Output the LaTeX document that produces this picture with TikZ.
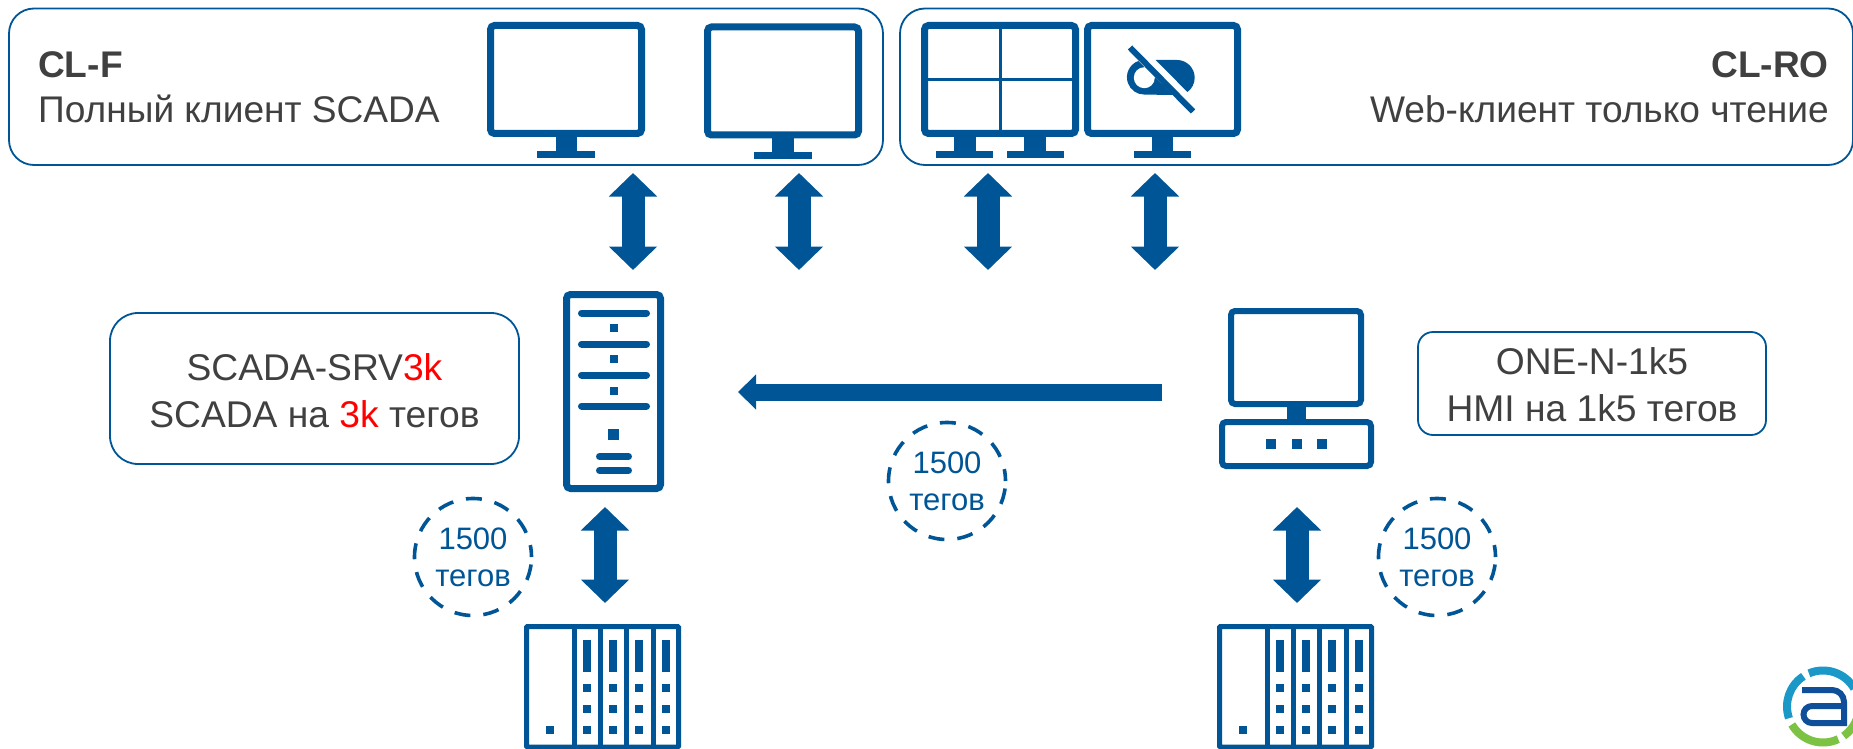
\documentclass[tikz,border=0pt]{standalone}
\usepackage{fontspec}
\setmainfont{Liberation Sans}
\usetikzlibrary{arrows.meta}
\definecolor{brand}{HTML}{005596}
\definecolor{txt}{HTML}{404040}
\definecolor{logoblue}{HTML}{1A98C8}
\definecolor{logogreen}{HTML}{7CC243}
\definecolor{logodark}{HTML}{0F4E98}
\tikzset{
  panel/.style={draw=brand,line width=1.8pt,rounded corners=25pt,fill=white,inner sep=0pt},
  paneltext/.style={inner sep=0pt,text=txt,align=center,font=\fontsize{37.2}{47}\selectfont},
  screen/.style={draw=brand,line width=7pt,rounded corners=4pt,fill=white,inner sep=0pt,outer sep=0pt},
  thinbox/.style={draw=brand,line width=5pt,fill=white,inner sep=0pt,outer sep=0pt,rounded corners=1pt},
  bigtext/.style={font=\fontsize{37.1}{45}\selectfont,text=txt,inner sep=0pt},
  tagcircle/.style={circle,draw=brand,line width=3.6pt,dash pattern=on 16pt off 13pt,dash phase=4pt,minimum size=117pt,inner sep=0pt,text=brand,align=center,font=\fontsize{31}{37}\selectfont},
  twoway/.style={draw=brand,line width=23pt,{Triangle[length=23.5pt,width=47pt,fill=brand]}-{Triangle[length=23.5pt,width=47pt,fill=brand]}},
  oneway/.style={draw=brand,line width=17pt,-{Triangle[length=18pt,width=34pt,fill=brand]}},
  round bar/.style={draw=brand,line width=7pt,line cap=round},
}
% stand of a monitor: neck from x1 to x2, base from x3 to x4, tops at y
\newcommand{\Stand}[5]{%
  \fill[brand] (#1,#5-1) rectangle (#2,#5+15);
  \fill[brand] (#3,#5+14) rectangle (#4,#5+21);
}
% PLC rack, outer left at 524
\newcommand{\PLCrack}[1]{%
  \node[thinbox,minimum width=152pt,minimum height=120.5pt] (#1) at (602.5,686.75) {};
  \foreach \dx in {574,600,626,653}{\draw[brand,line width=5pt] (\dx,626) -- (\dx,747);}
  \foreach \bx in {583,609,635,662}{%
    \fill[brand] (\bx,640) rectangle (\bx+8,672);
    \foreach \sy in {684,705,726}{\fill[brand] (\bx,\sy) rectangle (\bx+8,\sy+8);}
  }
  \fill[brand] (546,726) rectangle (554,734);
}
\begin{document}
\begin{tikzpicture}[x=1pt,y=1pt,yscale=-1]
\path[use as bounding box,clip] (0,0) rectangle (1853,749);
\fill[white] (0,0) rectangle (1853,749);

% panels
\node[panel,minimum width=874pt,minimum height=156.5pt] (clf) at (446,86.75) {};
\node[panel,minimum width=953pt,minimum height=156.5pt] (clro) at (1376.5,86.75) {};
\node[bigtext,anchor=base west] (clft) at (38,78) {\textbf{CL-F}};
\node[bigtext,anchor=base west] (clfd) at (38,123) {Полный клиент SCADA};
\node[bigtext,anchor=base east] (clrot) at (1829,78) {\textbf{CL-RO}};
\node[bigtext,anchor=base east] (clrod) at (1829,123) {Web-клиент только чтение};

% monitors in CL-F
\node[screen,minimum width=151pt,minimum height=108pt] (m1) at (566,79.5) {};
\Stand{556}{577}{537}{595}{137}
\node[screen,minimum width=151pt,minimum height=108pt] (m2) at (783,81) {};
\Stand{772}{794}{754}{812}{138.5}

% quad monitor
\node[screen,minimum width=151pt,minimum height=108pt] (m3) at (1000,79.5) {};
\draw[brand,line width=3pt] (m3.north) -- (m3.south);
\draw[brand,line width=3pt] (m3.west) -- (m3.east);
\Stand{954}{976}{936}{993}{137}
\Stand{1024}{1046}{1007}{1064}{137}

% monitor with crossed eye
\node[screen,minimum width=150pt,minimum height=108pt] (m4) at (1162.5,79.5) {};
\Stand{1152}{1173}{1134}{1191}{137}
\fill[brand] (1138.3,61) arc[start angle=250,end angle=90,radius=17.3] -- (1173.3,95) -- cycle;
\fill[white] (1144.3,77.7) circle[radius=10.5];
\fill[brand] (1177,60) arc[start angle=-90,end angle=54,radius=17.7] -- (1155.7,60) -- cycle;
\draw[brand,line width=6pt] (1130,47.5) -- (1193,111.5);

% server
\node[screen,minimum width=94pt,minimum height=194pt] (srv) at (613.5,391.5) {};
\foreach \ly in {313,344,375,406}{\draw[round bar] (581.5,\ly) -- (646.5,\ly);}
\foreach \sy in {328,359,391}{\fill[brand] (610,\sy-4) rectangle (618,\sy+4);}
\fill[brand] (608,429) rectangle (619,440);
\draw[brand,line width=7pt,line cap=round] (599.5,456.5) -- (628.5,456.5);
\draw[brand,line width=7pt,line cap=round] (599.5,470.5) -- (628.5,470.5);

% HMI
\node[screen,line width=6pt,minimum width=130pt,minimum height=93pt] (hmi) at (1296,357.5) {};
\node[screen,line width=6pt,minimum width=149pt,minimum height=44pt] (hmib) at (1296.5,444) {};
\fill[brand] (1287,404) rectangle (1306,425);
\fill[brand] (1266,439) rectangle (1276,449);
\fill[brand] (1292,439) rectangle (1302,449);
\fill[brand] (1317,439) rectangle (1327,449);

% PLC racks
\PLCrack{plca}
\begin{scope}[shift={(693,0)}]
\PLCrack{plcb}
\end{scope}

% info boxes
\node[panel,rounded corners=28pt,minimum width=409pt,minimum height=151pt] (srvbox) at (314.5,388.5) {};
\node[paneltext] (srvtext) at (314.5,391) {SCADA-SRV\textcolor{red}{3k}\\SCADA на \textcolor{red}{3k} тегов};
\node[panel,rounded corners=15pt,minimum width=348pt,minimum height=103pt] (hmibox) at (1592,383.5) {};
\node[paneltext] (hmitext) at (1592,385) {ONE-N-1k5\\HMI на 1k5 тегов};

% tag circles
\node[tagcircle] (ca) at (473,557) {1500\\тегов};
\node[tagcircle] (cb) at (947,481) {1500\\тегов};
\node[tagcircle] (cc) at (1437,557) {1500\\тегов};

% connectors
\coordinate (a1t) at (633,173); \coordinate (a1b) at (633,270);
\coordinate (a2t) at (799,173); \coordinate (a2b) at (799,270);
\coordinate (a3t) at (988,173); \coordinate (a3b) at (988,270);
\coordinate (a4t) at (1155,173); \coordinate (a4b) at (1155,270);
\coordinate (a5t) at (605,507); \coordinate (a5b) at (605,603);
\coordinate (a6t) at (1297,507); \coordinate (a6b) at (1297,603);
\coordinate (hs) at (1162,392); \coordinate (he) at (738,392);
\draw[twoway] (a1t) -- (a1b);
\draw[twoway] (a2t) -- (a2b);
\draw[twoway] (a3t) -- (a3b);
\draw[twoway] (a4t) -- (a4b);
\draw[twoway] (a5t) -- (a5b);
\draw[twoway] (a6t) -- (a6b);
\draw[oneway] (hs) -- (he);

% logo
\coordinate (lg) at (1823,706.5);
\begin{scope}[line width=8pt]
\draw[logoblue] (lg) ++(-123:36) arc[start angle=-123,end angle=-199,radius=36];
\draw[logoblue] (lg) ++(-113:36) arc[start angle=-113,end angle=-30,radius=36];
\draw[logogreen] (lg) ++(-210:36) arc[start angle=-210,end angle=-295,radius=36];
\draw[logogreen] (lg) ++(-305:36) arc[start angle=-305,end angle=-345,radius=36];
\end{scope}
\draw[logodark,line width=6pt] (1802,690) -- (1832,690) arc[start angle=-90,end angle=0,radius=12] -- (1844,723) -- (1812,723) arc[start angle=90,end angle=270,radius=8.5] -- (1844,706);
\end{tikzpicture}
\end{document}
